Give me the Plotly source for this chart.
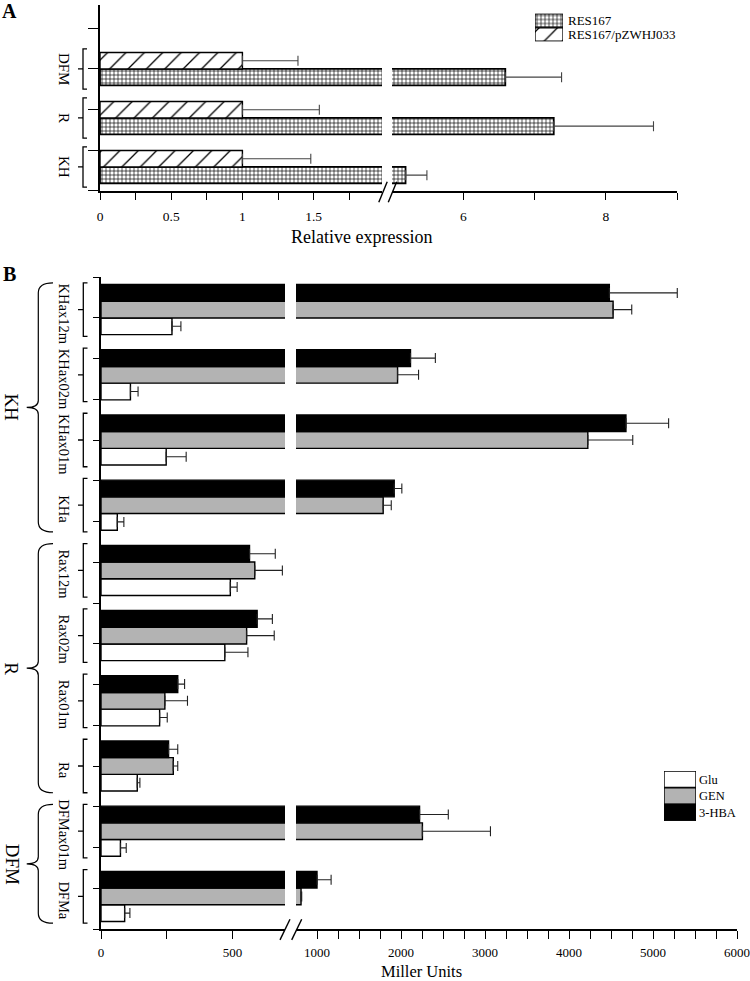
import plotly.graph_objects as go

W, H = 750, 981
FONT = "Liberation Serif"

# ---------------- data ----------------
# Panel A (bottom to top)
a_groups = ["KH", "R", "DFM"]
a_series = ["RES167", "RES167/pZWHJ033"]
a_res167 = [5.19, 7.27, 6.59]
a_res167_err = [0.30, 1.40, 0.79]
a_pzw = [1.00, 1.00, 1.00]
a_pzw_err = [0.48, 0.54, 0.39]
a_ticks_seg1 = [0, 0.25, 0.5, 0.75, 1, 1.25, 1.5, 1.75]
a_ticklabels_seg1 = ["0", "", "0.5", "", "1", "", "1.5", ""]
a_ticks_seg2 = [6, 7, 8, 9]
a_ticklabels_seg2 = ["6", "", "8", ""]

# Panel B (bottom to top)
b_strains = ["DFMa", "DFMax01m", "Ra", "Rax01m", "Rax02m", "Rax12m",
             "KHa", "KHax01m", "KHax02m", "KHax12m"]
b_family = ["DFM", "DFM", "R", "R", "R", "R", "KH", "KH", "KH", "KH"]
b_series = ["Glu", "GEN", "3-HBA"]
b_glu = [90, 74, 138, 223, 471, 492, 62, 248, 112, 270]
b_glu_err = [20, 22, 10, 29, 88, 26, 25, 76, 29, 34]
b_gen = [810, 2255, 275, 243, 554, 585, 1788, 4224, 1959, 4525]
b_gen_err = [8, 810, 17, 86, 105, 105, 96, 535, 250, 222]
b_hba = [1000, 2221, 257, 292, 594, 565, 1919, 4678, 2113, 4480]
b_hba_err = [168, 342, 35, 26, 58, 98, 91, 508, 296, 809]
b_ticks_seg1 = [0, 250, 500]
b_ticklabels_seg1 = ["0", "", "500"]
b_ticks_seg2 = list(range(1000, 6001, 250))
b_ticklabels_seg2 = [str(v) if v % 1000 == 0 else "" for v in b_ticks_seg2]

# ---------------- helpers ----------------
def px(p):
    return p / W


def py(p):
    return 1 - p / H


# panel A geometry
A_TOP, A_BOT = 5.0, 190.7
A_UNIT = 49.0
A_LO = -0.485
A_HI = A_LO + (A_BOT - A_TOP) / A_UNIT
A_W = 0.335
# panel B geometry
B_TOP, B_BOT = 277.0, 929.0
B_LO, B_HI = -0.5, 9.5
B_UNIT = (B_BOT - B_TOP) / (B_HI - B_LO)
B_W = 0.256

fig = go.Figure()

a_idx = list(range(len(a_groups)))
b_idx = list(range(len(b_strains)))

grid_pat = dict(shape="+", fgcolor="black", bgcolor="white", size=4, solidity=0.3)
diag_pat = dict(shape="/", fgcolor="black", bgcolor="white", size=13, solidity=0.1)


def err(arr, color="#333"):
    return dict(type="data", symmetric=False, array=arr, arrayminus=[0] * len(arr),
                width=5, thickness=1.1, color=color)


for xa in ["x", "x2"]:
    fig.add_trace(go.Bar(
        y=a_idx, x=a_res167, orientation="h", name=a_series[0],
        offset=-A_W, width=A_W, xaxis=xa, yaxis="y",
        marker=dict(color="white", line=dict(color="black", width=1.8), pattern=grid_pat),
        error_x=err(a_res167_err, "#444")))
    fig.add_trace(go.Bar(
        y=a_idx, x=a_pzw, orientation="h", name=a_series[1],
        offset=0, width=A_W, xaxis=xa, yaxis="y",
        marker=dict(color="white", line=dict(color="black", width=1.4), pattern=diag_pat),
        error_x=err(a_pzw_err, "#444")))

b_vals = [b_glu, b_gen, b_hba]
b_errs = [b_glu_err, b_gen_err, b_hba_err]
b_colors = ["white", "#b3b3b3", "black"]
b_offsets = [-1.5 * B_W, -0.5 * B_W, 0.5 * B_W]
for xa in ["x3", "x4"]:
    for name, vals, errs, col, off in zip(b_series, b_vals, b_errs, b_colors, b_offsets):
        fig.add_trace(go.Bar(
            y=b_idx, x=vals, orientation="h", name=name,
            offset=off, width=B_W, xaxis=xa, yaxis="y2",
            marker=dict(color=col, line=dict(color="black", width=1.4)),
            error_x=err(errs, "#222")))

# legend swatches (drawn as bars on small helper axes)
fig.add_trace(go.Bar(
    y=[1, 0], x=[1, 1], orientation="h", offset=-0.47, width=0.94,
    xaxis="x5", yaxis="y5",
    marker=dict(color="white", line=dict(color="black", width=1.3),
                pattern=dict(shape=["+", "/"], fgcolor="black", bgcolor="white",
                             size=[4, 13], solidity=[0.3, 0.1]))))
fig.add_trace(go.Bar(
    y=[2, 1, 0], x=[1, 1, 1], orientation="h", offset=-0.49, width=0.98,
    xaxis="x6", yaxis="y6",
    marker=dict(color=b_colors, line=dict(color="black", width=1.4))))

axis_common = dict(showgrid=False, zeroline=False, showline=True, linecolor="black",
                   linewidth=1.6, ticks="outside", tickcolor="black", tickwidth=1.4,
                   ticklabeloverflow="allow")
tf_a = dict(family=FONT, size=13.5, color="black")
tf_b = dict(family=FONT, size=13, color="black")

layout = dict(
    width=W, height=H, margin=dict(l=0, r=0, t=0, b=0),
    paper_bgcolor="white", plot_bgcolor="rgba(0,0,0,0)",
    showlegend=False, barmode="overlay", template="none",
    font=dict(family=FONT, color="black"),
    xaxis=dict(domain=[px(100), px(382)], range=[0, 1.98], anchor="y",
               tickvals=a_ticks_seg1, ticktext=a_ticklabels_seg1, ticklen=7,
               ticklabelstandoff=5, tickfont=tf_a, **axis_common),
    xaxis2=dict(domain=[px(392), px(677)], range=[5, 9], anchor="y",
                tickvals=a_ticks_seg2, ticktext=a_ticklabels_seg2, ticklen=7,
                ticklabelstandoff=5, tickfont=tf_a, **axis_common),
    yaxis=dict(domain=[py(A_BOT), py(A_TOP)], range=[A_LO, A_HI], anchor="x",
               tickvals=[A_LO + k * 0.83 for k in range(5)], showticklabels=False,
               ticklen=10, **axis_common),
    xaxis3=dict(domain=[px(101), px(285)], range=[0, 700], anchor="y2",
                tickvals=b_ticks_seg1, ticktext=b_ticklabels_seg1, ticklen=8,
                ticklabelstandoff=3, tickfont=tf_b, **axis_common),
    xaxis4=dict(domain=[px(296), px(737)], range=[750, 6000], anchor="y2",
                tickvals=b_ticks_seg2, ticktext=b_ticklabels_seg2, ticklen=8,
                ticklabelstandoff=3, tickfont=tf_b, **axis_common),
    yaxis2=dict(domain=[py(B_BOT), py(B_TOP)], range=[B_LO, B_HI], anchor="x3",
                tickvals=[B_LO + k * 0.625 for k in range(17)], showticklabels=False,
                ticklen=6, **axis_common),
    xaxis5=dict(domain=[px(535), px(563)], range=[0, 1], anchor="y5", visible=False),
    yaxis5=dict(domain=[py(41.5), py(13.5)], range=[-0.5, 1.5], anchor="x5", side="right",
                tickvals=[1, 0], ticktext=a_series, showline=False, showgrid=False,
                zeroline=False, ticks="", ticklabelstandoff=4, ticklabeloverflow="allow",
                tickfont=dict(family=FONT, size=13, color="black")),
    xaxis6=dict(domain=[px(664), px(696)], range=[0, 1], anchor="y6", visible=False),
    yaxis6=dict(domain=[py(821), py(771)], range=[-0.5, 2.5], anchor="x6", side="right",
                tickvals=[2, 1, 0], ticktext=b_series, showline=False, showgrid=False,
                zeroline=False, ticks="", ticklabelstandoff=2, ticklabeloverflow="allow",
                tickfont=dict(family=FONT, size=12.5, color="black")),
)
fig.update_layout(**layout)

shapes = []
annotations = []


def label(x, y, text, size, yref="paper", angle=0):
    return dict(x=x, y=y, xref="paper", yref=yref, text=text, textangle=angle,
                showarrow=False, xanchor="center", yanchor="middle",
                font=dict(family=FONT, size=size, color="black"))


def bracket(c, half, yref, xv, xr, xl):
    return dict(type="path", xref="paper", yref=yref,
                path=(f"M{px(xr)},{c + half} L{px(xv)},{c + half} L{px(xv)},{c - half} "
                      f"L{px(xr)},{c - half} M{px(xv)},{c} L{px(xl)},{c}"),
                line=dict(color="black", width=1.3))


# panel A brackets and labels
for i, g in zip(a_idx, a_groups):
    shapes.append(bracket(i, 0.41, "y", 83, 87, 78))
    annotations.append(label(px(64), i, g, 15, yref="y", angle=90))

# panel B brackets and labels
lab_shift = 4 / B_UNIT
for i, s in zip(b_idx, b_strains):
    shapes.append(bracket(i, 0.41, "y2", 83.3, 87.5, 78))
    annotations.append(label(px(64), i - lab_shift, s, 14.5, yref="y2", angle=90))

# family braces
families = []
for f in b_family:
    if f not in families:
        families.append(f)
for f in families:
    members = [i for i, ff in zip(b_idx, b_family) if ff == f]
    top = max(members) + 0.41
    bot = min(members) - 0.41
    mid = (top + bot) / 2
    d = 10 / B_UNIT
    t = 7 / B_UNIT
    xe, xv, xt = px(53), px(38.3), px(26.7)
    path = (f"M{xe},{top} Q{xv},{top} {xv},{top - d} L{xv},{mid + t} "
            f"Q{xv},{mid} {xt},{mid} Q{xv},{mid} {xv},{mid - t} "
            f"L{xv},{bot + d} Q{xv},{bot} {xe},{bot}")
    shapes.append(dict(type="path", xref="paper", yref="y2", path=path,
                       line=dict(color="black", width=1.2)))
    annotations.append(label(px(12), mid, f, 19, yref="y2", angle=90))


# axis break marks
def slash(cx, cy, dx, dy):
    return dict(type="line", xref="paper", yref="paper",
                x0=px(cx - dx), y0=py(cy + dy), x1=px(cx + dx), y1=py(cy - dy),
                line=dict(color="black", width=1.4))


shapes += [slash(383, 192, 4.2, 10.3), slash(392.5, 192, 4.2, 10.3),
           slash(285, 929.6, 5, 10.3), slash(296.7, 929.6, 5, 10.3)]

# panel letters and axis titles
annotations += [
    label(px(9), py(11), "<b>A</b>", 20),
    label(px(9), py(274), "<b>B</b>", 20),
    label(px(361), py(236.5), "Relative expression", 18),
    label(px(421), py(971.5), "Miller Units", 16.5),
]

fig.update_layout(shapes=shapes, annotations=annotations)
fig.write_html("out.html", config={"displayModeBar": False},
               post_script="document.body.style.margin='0';document.body.style.padding='0';")
